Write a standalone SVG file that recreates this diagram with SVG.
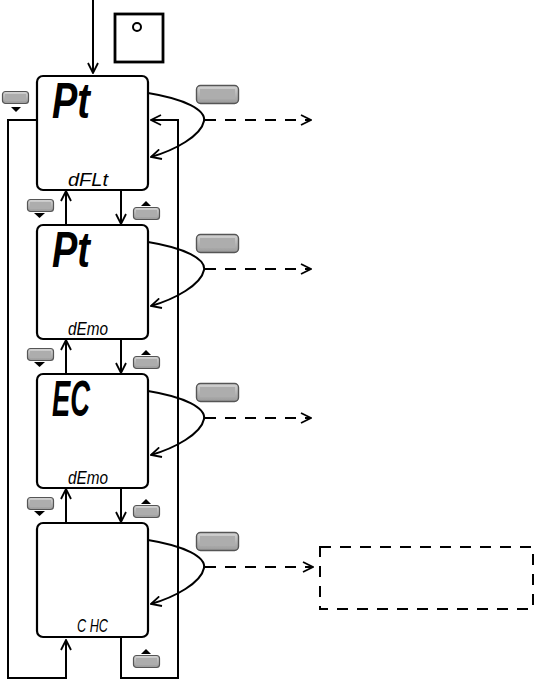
<svg xmlns="http://www.w3.org/2000/svg" width="535" height="680" viewBox="0 0 535 680">
<style>
.ln{fill:none;stroke:#000;stroke-width:2}
.dash{fill:none;stroke:#000;stroke-width:2;stroke-dasharray:11 9}
.node{fill:#fff;stroke:#000;stroke-width:2.2}
.big{font-family:"Liberation Sans",Arial,sans-serif;font-size:50px;font-weight:bold;font-style:italic;fill:#000}
.small{font-family:"Liberation Sans",Arial,sans-serif;font-size:18px;font-style:italic;fill:#000}
.tri{fill:#000}
</style>
<defs>
<marker id="arr" viewBox="0 0 12 12" refX="11" refY="6" markerWidth="12" markerHeight="12" markerUnits="userSpaceOnUse" orient="auto">
<path d="M1,1 L11,6 L1,11" fill="none" stroke="#000" stroke-width="1.8"/>
</marker>
<linearGradient id="bg" x1="0" y1="0" x2="0" y2="1">
<stop offset="0" stop-color="#d4d4d4"/>
<stop offset="1" stop-color="#9a9a9a"/>
</linearGradient>
<g id="btnS">
<rect x="0.5" y="0.5" width="26" height="12" rx="3" fill="url(#bg)" stroke="#555" stroke-width="1.2"/>
<rect x="3" y="3" width="21" height="7" fill="#adadad"/>
</g>
<g id="btnL">
<rect x="0.5" y="0.5" width="42" height="18" rx="4" fill="url(#bg)" stroke="#555" stroke-width="1.4"/>
<rect x="4" y="4" width="35" height="10" fill="#adadad"/>
</g>
</defs>

<g id="start">
<line class="ln" x1="93" y1="0" x2="93" y2="73" marker-end="url(#arr)"/>
<rect x="115" y="14" width="48" height="48" fill="#fff" stroke="#000" stroke-width="2.8"/>
<circle cx="137" cy="27" r="4" fill="none" stroke="#000" stroke-width="2"/>
</g>

<g id="connectors">
<path class="ln" d="M37,120 H8 V678 H66 V640" marker-end="url(#arr)"/>
<path class="ln" d="M121,637 V678 H178 V120 H151" marker-end="url(#arr)"/>
<line class="ln" x1="66" y1="225" x2="66" y2="191" marker-end="url(#arr)"/>
<line class="ln" x1="121" y1="190" x2="121" y2="224" marker-end="url(#arr)"/>
<line class="ln" x1="66" y1="374" x2="66" y2="340" marker-end="url(#arr)"/>
<line class="ln" x1="121" y1="339" x2="121" y2="373" marker-end="url(#arr)"/>
<line class="ln" x1="66" y1="523" x2="66" y2="489" marker-end="url(#arr)"/>
<line class="ln" x1="121" y1="488" x2="121" y2="522" marker-end="url(#arr)"/>
<g id="loops">
<path class="ln" d="M148,93 C185,99 206,110 204,121 C201,136 175,150 151,157" marker-end="url(#arr)"/>
<path class="ln" d="M148,242 C185,248 206,259 204,270 C201,285 175,299 151,306" marker-end="url(#arr)"/>
<path class="ln" d="M148,391 C185,397 206,408 204,419 C201,434 175,448 151,455" marker-end="url(#arr)"/>
<path class="ln" d="M148,540 C185,546 206,557 204,568 C201,583 175,597 151,604" marker-end="url(#arr)"/>
</g>
<line class="dash" x1="205" y1="120" x2="311" y2="120" marker-end="url(#arr)"/>
<line class="dash" x1="205" y1="269" x2="311" y2="269" marker-end="url(#arr)"/>
<line class="dash" x1="205" y1="418" x2="311" y2="418" marker-end="url(#arr)"/>
<line class="dash" x1="205" y1="567" x2="313" y2="567" marker-end="url(#arr)"/>
</g>

<g id="buttons">
<use href="#btnS" x="2" y="91"/><path class="tri" d="M11,107 H21 L16,112 Z"/>
<use href="#btnS" x="27" y="199"/><path class="tri" d="M34,213 H45 L39.5,218 Z"/>
<use href="#btnS" x="133" y="207"/><path class="tri" d="M141,206 H151 L146,201 Z"/>
<use href="#btnS" x="27" y="348"/><path class="tri" d="M34,362 H45 L39.5,367 Z"/>
<use href="#btnS" x="133" y="356"/><path class="tri" d="M141,355 H151 L146,350 Z"/>
<use href="#btnS" x="27" y="497"/><path class="tri" d="M34,511 H45 L39.5,516 Z"/>
<use href="#btnS" x="133" y="505"/><path class="tri" d="M141,504 H151 L146,499 Z"/>
<use href="#btnS" x="133" y="655"/><path class="tri" d="M141,654 H151 L146,649 Z"/>
<use href="#btnL" x="196" y="85"/>
<use href="#btnL" x="196" y="234"/>
<use href="#btnL" x="196" y="383"/>
<use href="#btnL" x="196" y="532"/>
</g>

<g id="node1">
<rect class="node" x="37" y="76" width="111" height="114" rx="6"/>
<text class="big" x="52" y="118" textLength="38" lengthAdjust="spacingAndGlyphs">Pt</text>
<text class="small" x="68" y="186" textLength="40" lengthAdjust="spacingAndGlyphs">dFLt</text>
</g>
<g id="node2">
<rect class="node" x="37" y="225" width="111" height="114" rx="6"/>
<text class="big" x="52" y="267" textLength="38" lengthAdjust="spacingAndGlyphs">Pt</text>
<text class="small" x="68" y="335" textLength="40" lengthAdjust="spacingAndGlyphs">dEmo</text>
</g>
<g id="node3">
<rect class="node" x="37" y="374" width="111" height="114" rx="6"/>
<text class="big" x="52" y="416" textLength="38" lengthAdjust="spacingAndGlyphs">EC</text>
<text class="small" x="68" y="484" textLength="40" lengthAdjust="spacingAndGlyphs">dEmo</text>
</g>
<g id="node4">
<rect class="node" x="37" y="523" width="111" height="114" rx="6"/>
<text class="small" x="77" y="632" textLength="31" lengthAdjust="spacingAndGlyphs">C HC</text>
</g>
<g id="target">
<rect class="dash" x="320" y="547" width="213" height="62"/>
</g>
</svg>
